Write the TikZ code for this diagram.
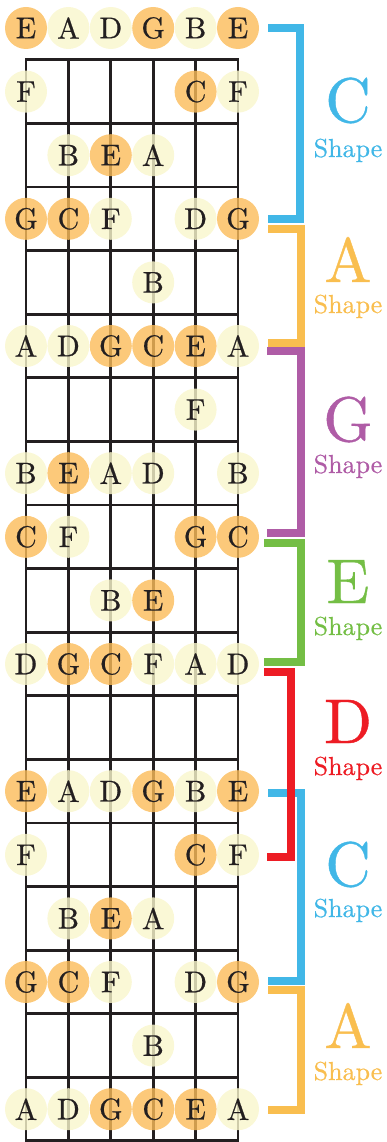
\documentclass[tikz,border=0pt]{standalone}
\usepackage{fontspec}
\newfontfamily\notefont{lmroman10-regular.otf}[FakeBold=0.6]

\definecolor{tonefill}{HTML}{F9F6CC}
\definecolor{rootfill}{HTML}{FBBC59}
\definecolor{fretink}{HTML}{231F20}
\definecolor{cblue}{HTML}{41B7E7}
\definecolor{aorange}{HTML}{F9BE4F}
\definecolor{gpurple}{HTML}{AF5CA6}
\definecolor{egreen}{HTML}{74BE45}
\definecolor{dred}{HTML}{ED1C24}

\tikzset{
    tone/.style={circle, fill=tonefill, fill opacity=0.8, text opacity=1, text=fretink,
        minimum size=42pt, inner sep=0pt, font=\notefont\fontsize{30}{30}\selectfont},
    root/.style={tone, fill=rootfill},
    fret/.style={draw=fretink, line width=2.7pt, line cap=rect},
    wire/.style={draw=fretink, line width=2.7pt},
    bracket/.style={line width=8pt},
    bigletter/.style={anchor=base, inner sep=0pt, font=\notefont\fontsize{63}{63}\selectfont},
    shapeword/.style={anchor=base, inner sep=0pt, font=\notefont\fontsize{26}{26}\selectfont},
}

\begin{document}
\begin{tikzpicture}[x=1pt, y=-1pt]
    \useasboundingbox (0,0) rectangle (386,1142);
    % frets
    \draw[fret] (26,59.8) -- (238,59.8);
    \draw[fret] (26,123.4) -- (238,123.4);
    \draw[fret] (26,187.0) -- (238,187.0);
    \draw[fret] (26,250.6) -- (238,250.6);
    \draw[fret] (26,314.2) -- (238,314.2);
    \draw[fret] (26,377.8) -- (238,377.8);
    \draw[fret] (26,441.4) -- (238,441.4);
    \draw[fret] (26,505.0) -- (238,505.0);
    \draw[fret] (26,568.6) -- (238,568.6);
    \draw[fret] (26,632.2) -- (238,632.2);
    \draw[fret] (26,695.8) -- (238,695.8);
    \draw[fret] (26,759.4) -- (238,759.4);
    \draw[fret] (26,823.0) -- (238,823.0);
    \draw[fret] (26,886.6) -- (238,886.6);
    \draw[fret] (26,950.2) -- (238,950.2);
    \draw[fret] (26,1013.8) -- (238,1013.8);
    \draw[fret] (26,1077.4) -- (238,1077.4);
    \draw[fret] (26,1140.6) -- (238,1140.6);
    % strings
    \draw[wire] (26,59.8) -- (26,1142);
    \draw[wire] (68.4,59.8) -- (68.4,1142);
    \draw[wire] (110.8,59.8) -- (110.8,1142);
    \draw[wire] (153.2,59.8) -- (153.2,1142);
    \draw[wire] (195.6,59.8) -- (195.6,1142);
    \draw[wire] (238,59.8) -- (238,1142);
    % notes
    \node[root] (n0s1) at (26,28) {E}; \node[tone] (n0s2) at (68.4,28) {A}; \node[tone] (n0s3) at (110.8,28) {D};
    \node[root] (n0s4) at (153.2,28) {G}; \node[tone] (n0s5) at (195.6,28) {B}; \node[root] (n0s6) at (238,28) {E};
    \node[tone] (n1s1) at (26,91.6) {F}; \node[root] (n1s5) at (195.6,91.6) {C}; \node[tone] (n1s6) at (238,91.6) {F};
    \node[tone] (n2s2) at (68.4,155.2) {B}; \node[root] (n2s3) at (110.8,155.2) {E}; \node[tone] (n2s4) at (153.2,155.2) {A};
    \node[root] (n3s1) at (26,218.8) {G}; \node[root] (n3s2) at (68.4,218.8) {C}; \node[tone] (n3s3) at (110.8,218.8) {F};
    \node[tone] (n3s5) at (195.6,218.8) {D}; \node[root] (n3s6) at (238,218.8) {G};
    \node[tone] (n4s4) at (153.2,282.4) {B};
    \node[tone] (n5s1) at (26,346) {A}; \node[tone] (n5s2) at (68.4,346) {D}; \node[root] (n5s3) at (110.8,346) {G};
    \node[root] (n5s4) at (153.2,346) {C}; \node[root] (n5s5) at (195.6,346) {E}; \node[tone] (n5s6) at (238,346) {A};
    \node[tone] (n6s5) at (195.6,409.6) {F};
    \node[tone] (n7s1) at (26,473.2) {B}; \node[root] (n7s2) at (68.4,473.2) {E}; \node[tone] (n7s3) at (110.8,473.2) {A};
    \node[tone] (n7s4) at (153.2,473.2) {D}; \node[tone] (n7s6) at (238,473.2) {B};
    \node[root] (n8s1) at (26,536.8) {C}; \node[tone] (n8s2) at (68.4,536.8) {F}; \node[root] (n8s5) at (195.6,536.8) {G};
    \node[root] (n8s6) at (238,536.8) {C};
    \node[tone] (n9s3) at (110.8,600.4) {B}; \node[root] (n9s4) at (153.2,600.4) {E};
    \node[tone] (n10s1) at (26,664) {D}; \node[root] (n10s2) at (68.4,664) {G}; \node[root] (n10s3) at (110.8,664) {C};
    \node[tone] (n10s4) at (153.2,664) {F}; \node[tone] (n10s5) at (195.6,664) {A}; \node[tone] (n10s6) at (238,664) {D};
    \node[root] (n12s1) at (26,791.2) {E}; \node[tone] (n12s2) at (68.4,791.2) {A}; \node[tone] (n12s3) at (110.8,791.2) {D};
    \node[root] (n12s4) at (153.2,791.2) {G}; \node[tone] (n12s5) at (195.6,791.2) {B}; \node[root] (n12s6) at (238,791.2) {E};
    \node[tone] (n13s1) at (26,854.8) {F}; \node[root] (n13s5) at (195.6,854.8) {C}; \node[tone] (n13s6) at (238,854.8) {F};
    \node[tone] (n14s2) at (68.4,918.4) {B}; \node[root] (n14s3) at (110.8,918.4) {E}; \node[tone] (n14s4) at (153.2,918.4) {A};
    \node[root] (n15s1) at (26,982) {G}; \node[root] (n15s2) at (68.4,982) {C}; \node[tone] (n15s3) at (110.8,982) {F};
    \node[tone] (n15s5) at (195.6,982) {D}; \node[root] (n15s6) at (238,982) {G};
    \node[tone] (n16s4) at (153.2,1045.6) {B};
    \node[tone] (n17s1) at (26,1109.2) {A}; \node[tone] (n17s2) at (68.4,1109.2) {D}; \node[root] (n17s3) at (110.8,1109.2) {G};
    \node[root] (n17s4) at (153.2,1109.2) {C}; \node[root] (n17s5) at (195.6,1109.2) {E}; \node[tone] (n17s6) at (238,1109.2) {A};
    % shape brackets
    \draw[bracket, cblue] (268,28) -- (300,28) -- (300,219) -- (268,219);
    \draw[bracket, aorange] (268,229) -- (300.5,229) -- (300.5,343) -- (268,343);
    \draw[bracket, gpurple] (267,351) -- (301,351) -- (301,533) -- (267,533);
    \draw[bracket, egreen] (264,543) -- (301,543) -- (301,662) -- (264,662);
    \draw[bracket, cblue] (268,793) -- (301,793) -- (301,981) -- (268,981);
    \draw[bracket, dred] (264,672) -- (291,672) -- (291,857) -- (267,857);
    \draw[bracket, aorange] (268,990) -- (301,990) -- (301,1110) -- (268,1110);
    % shape labels
    \node[bigletter, text=cblue] (cname) at (348,122) {C};
    \node[shapeword, text=cblue] (cword) at (348,157) {Shape};
    \node[bigletter, text=aorange] (aname) at (348,282) {A};
    \node[shapeword, text=aorange] (aword) at (348,313) {Shape};
    \node[bigletter, text=gpurple] (gname) at (348,441) {G};
    \node[shapeword, text=gpurple] (gword) at (348,473) {Shape};
    \node[bigletter, text=egreen] (ename) at (348,603) {E};
    \node[shapeword, text=egreen] (eword) at (348,635) {Shape};
    \node[bigletter, text=dred] (dname) at (348,743) {D};
    \node[shapeword, text=dred] (dword) at (348,775) {Shape};
    \node[bigletter, text=cblue] (cname2) at (348,886) {C};
    \node[shapeword, text=cblue] (cword2) at (348,917) {Shape};
    \node[bigletter, text=aorange] (aname2) at (348,1048) {A};
    \node[shapeword, text=aorange] (aword2) at (348,1080) {Shape};
\end{tikzpicture}
\end{document}
